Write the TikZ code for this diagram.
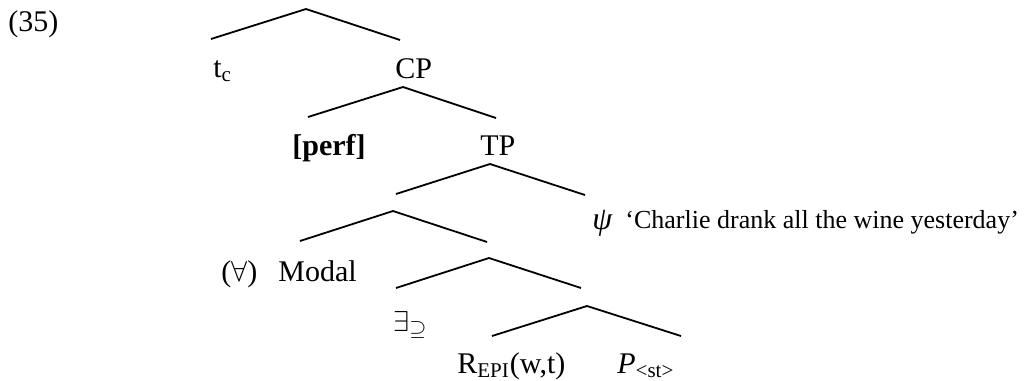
\documentclass[tikz,border=0pt]{standalone}
\usepackage{fontspec}
\setmainfont{Liberation Serif}
\begin{document}
\begin{tikzpicture}[x=0.5pt,y=-0.5pt,
  lbl/.style={inner sep=0pt, anchor=base west, font=\fontsize{15}{18}\selectfont},
  small/.style={font=\fontsize{13}{16}\selectfont},
  branch/.style={line width=0.9pt, line join=miter}]
\useasboundingbox (0,0) rectangle (1025,381);

% labels
\node[lbl] (ex)     at (8,31)    {(35)};
\node[lbl] (tc)     at (213,77)  {t\textsubscript{c}};
\node[lbl] (cp)     at (395,78)  {CP};
\node[lbl,font=\fontsize{15}{18}\selectfont\bfseries] (perf) at (292,155) {[perf]};
\node[lbl] (tp)     at (480,155) {TP};
\node[lbl] (forall) at (221,281) {($\forall$)};
\node[lbl] (modal)  at (278,281) {Modal};
\node[lbl,font=\fontsize{16}{18}\selectfont\itshape] (psi) at (592,229) {ψ};
\node[lbl,small] (wine) at (625,228) {`Charlie drank all the wine yesterday'};
\node[lbl] (exists) at (393,331) {$\exists_{\supseteq}$};
\node[lbl] (repi)   at (457,373) {R\textsubscript{EPI}(w,t)};
\node[lbl] (pst)    at (617,373) {\textit{P}\textsubscript{<st>}};

% branching points
\coordinate (a1) at (306,9);   \coordinate (l1) at (211,39);  \coordinate (r1) at (400,40);
\coordinate (a2) at (403,87);  \coordinate (l2) at (308,117); \coordinate (r2) at (496,118);
\coordinate (a3) at (490,164); \coordinate (l3) at (396,194); \coordinate (r3) at (585,195);
\coordinate (a4) at (393,211); \coordinate (l4) at (300,241); \coordinate (r4) at (487,242);
\coordinate (a5) at (489,258); \coordinate (l5) at (396,288); \coordinate (r5) at (581,288);
\coordinate (a6) at (587,306); \coordinate (l6) at (492,336); \coordinate (r6) at (681,336);

\foreach \i in {1,...,6}
  \draw[branch] (l\i) -- (a\i) -- (r\i);
\end{tikzpicture}
\end{document}
